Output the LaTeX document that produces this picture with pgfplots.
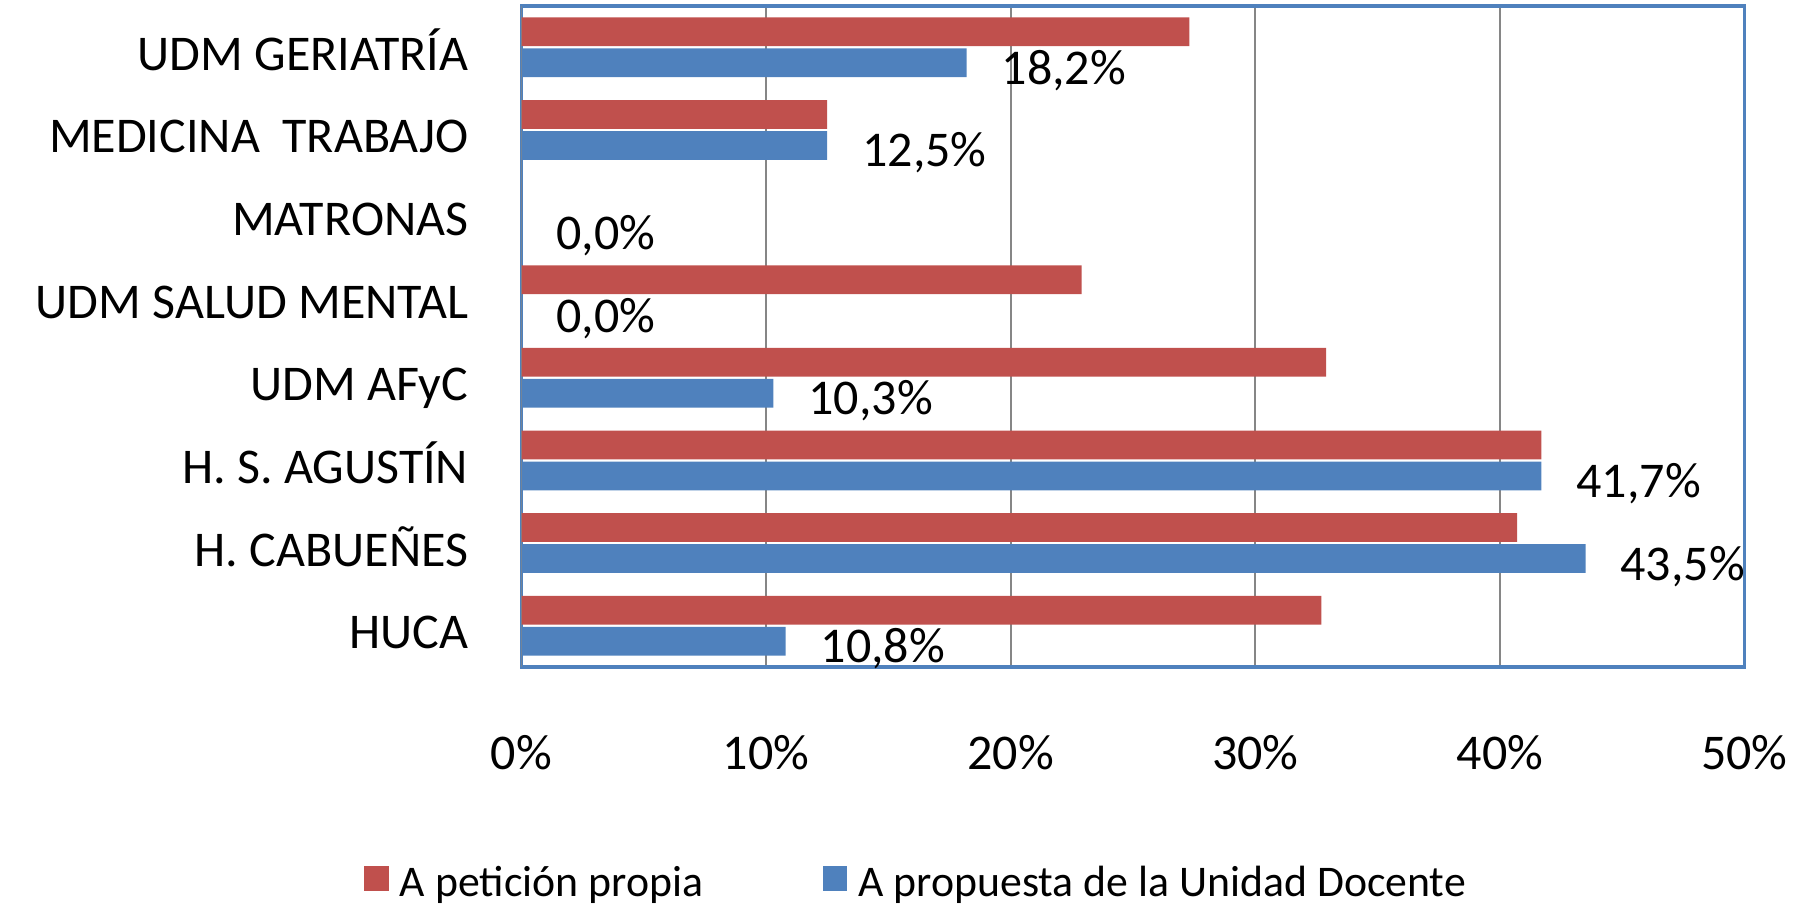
\documentclass[border=0pt]{standalone}
\usepackage{pgfplots}
\pgfplotsset{compat=1.18}
\usepackage{fontspec}
\setmainfont{Carlito}
\definecolor{barred}{HTML}{C0504D}
\definecolor{barblue}{HTML}{4F81BD}
\definecolor{gridgray}{HTML}{868686}
\begin{document}
\begin{tikzpicture}
\path[use as bounding box] (0,0) rectangle (723.6pt,-362pt);
\begin{axis}[
    at={(208.6pt,-2.4pt)}, anchor=north west,
    scale only axis,
    width=489.2pt, height=264.4pt,
    xbar, bar width=11.5pt,
    xmin=0, xmax=50,
    ymin=-0.5, ymax=7.5,
    xtick={0,10,20,30,40,50},
    xticklabel={\pgfmathprintnumber{\tick}\%},
    ytick={0,1,2,3,4,5,6,7},
    yticklabels={HUCA, H. CABUEÑES, H. S. AGUSTÍN, UDM AFyC, UDM SALUD MENTAL, MATRONAS, MEDICINA\hspace{0.45em}TRABAJO, UDM GERIATRÍA},
    /pgf/number format/assume math mode=true,
    tick style={draw=none},
    xmajorgrids=true,
    grid style={gridgray, line width=0.8pt},
    axis line style={barblue, line width=1.3pt},
    ticklabel style={font=\fontsize{20}{24}\selectfont},
    yticklabel style={anchor=base east, xshift=-13.5pt, yshift=-9.2pt},
    xticklabel style={anchor=base, yshift=-41pt},
    legend style={at={(0.324,-0.327)}, anchor=center, draw=none,
        font=\fontsize{17.5}{21}\selectfont, legend columns=2,
        /tikz/every odd column/.append style={column sep=2.5pt},
        /tikz/every even column/.append style={column sep=46pt}},
    legend image code/.code={\fill (0pt,-3pt) rectangle (9.7pt,6.7pt);},
]
% A peticion propia
\addplot[fill=barred, draw=none, bar shift=6.2pt]
    coordinates {
    (32.7,0)(40.7,1)(41.7,2)(32.9,3)(22.9,4)(0,5)(12.5,6)(27.3,7)
    };
% A propuesta de la Unidad Docente
\addplot[fill=barblue, draw=none, bar shift=-6.2pt,
    point meta=x,
    nodes near coords={\pgfmathprintnumber[fixed,fixed zerofill,precision=1,use comma]{\pgfplotspointmeta}\%},
    nodes near coords style={anchor=base west, xshift=10.5pt, yshift=-8.6pt, text=black, font=\fontsize{20}{24}\selectfont},
    ]
    coordinates {
    (10.8,0)(43.5,1)(41.7,2)(10.3,3)(0,4)(0,5)(12.5,6)(18.2,7)
    };
\draw[gridgray, line width=0.8pt] (axis cs:0,-0.5) -- (axis cs:0,7.5);
\legend{A petición propia, A propuesta de la Unidad Docente}
\end{axis}
\end{tikzpicture}
\end{document}
